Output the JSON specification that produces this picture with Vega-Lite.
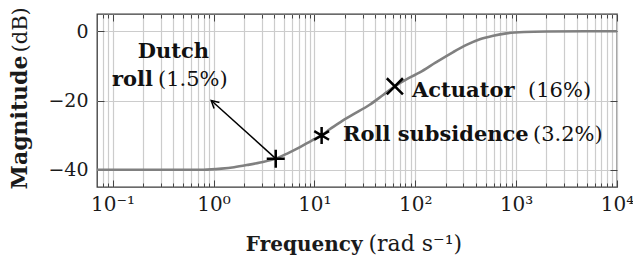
{
  "$schema": "https://vega.github.io/schema/vega-lite/v6.json",
  "width": 520,
  "height": 173,
  "autosize": {"type": "none"},
  "padding": {"left": 97, "top": 14, "right": 16, "bottom": 80},
  "config": {
    "view": {"stroke": "#3a3a3a", "strokeWidth": 1.3},
    "font": "DejaVu Serif",
    "axis": {
      "domain": false,
      "labelFont": "DejaVu Serif",
      "titleFont": "DejaVu Serif",
      "labelColor": "#1a1a1a",
      "titleColor": "#1a1a1a",
      "gridColor": "#cccccc",
      "gridWidth": 1.2,
      "tickColor": "#444444",
      "tickWidth": 1,
      "labelFontSize": 19,
      "titleFontSize": 20,
      "labelOverlap": false,
      "labelFlush": false,
      "labelBound": false
    }
  },
  "datasets": {
    "curve": [
      {"f": 0.07, "db": -40}, {"f": 0.2, "db": -40}, {"f": 0.5, "db": -40}, {"f": 0.8, "db": -40},
      {"f": 1.2, "db": -39.7}, {"f": 1.6, "db": -39.3}, {"f": 2.2, "db": -38.6}, {"f": 2.9, "db": -37.9},
      {"f": 4.14, "db": -36.8}, {"f": 5.5, "db": -35.2}, {"f": 7.2, "db": -33.5}, {"f": 9.5, "db": -31.5},
      {"f": 11.8, "db": -30.1}, {"f": 14.2, "db": -28.3}, {"f": 18, "db": -26.3}, {"f": 24, "db": -24.1},
      {"f": 35, "db": -21.3}, {"f": 48, "db": -18.4}, {"f": 62.8, "db": -15.9}, {"f": 85, "db": -13.6},
      {"f": 111, "db": -11.9}, {"f": 160, "db": -9.0}, {"f": 238, "db": -6.0}, {"f": 330, "db": -3.8},
      {"f": 437, "db": -2.3}, {"f": 593, "db": -1.3}, {"f": 800, "db": -0.6}, {"f": 1200, "db": -0.2},
      {"f": 2000, "db": -0.05}, {"f": 5000, "db": 0}, {"f": 10000, "db": 0}
    ],
    "markers": [
      {"mode": "Dutch roll", "f": 4.14, "db": -36.8},
      {"mode": "Roll subsidence", "f": 11.8, "db": -30.1},
      {"mode": "Actuator", "f": 62.8, "db": -15.9}
    ],
    "arrow": [{"f": 4.14, "db": -36.8, "f2": 0.95, "db2": -20}],
    "boldCenter": [{"text": "Dutch", "f": 0.401, "db": -7.8}],
    "boldRight": [{"text": "roll", "f": 0.2514, "db": -15.8}],
    "boldLeft": [
      {"text": "Actuator", "f": 92.9, "db": -18.9},
      {"text": "Roll subsidence", "f": 19.2, "db": -31.7}
    ],
    "regularLeft": [
      {"text": "(1.5%)", "f": 0.2817, "db": -15.8},
      {"text": "(16%)", "f": 1312, "db": -18.9},
      {"text": "(3.2%)", "f": 1469, "db": -31.7}
    ]
  },
  "layer": [
    {
      "data": {"name": "curve"},
      "mark": {"type": "line", "color": "#808080", "strokeWidth": 2.6, "interpolate": "monotone"},
      "encoding": {
        "x": {
          "field": "f", "type": "quantitative",
          "scale": {"type": "log", "domain": [0.07, 10000], "nice": false},
          "axis": {
            "orient": "bottom",
            "values": [0.08,0.09,0.1,0.2,0.3,0.4,0.5,0.6,0.7,0.8,0.9,1,2,3,4,5,6,7,8,9,10,20,30,40,50,60,70,80,90,100,200,300,400,500,600,700,800,900,1000,2000,3000,4000,5000,6000,7000,8000,9000,10000],
            "labelExpr": "datum.value == 0.1 ? '10⁻¹' : datum.value == 1 ? '10⁰' : datum.value == 10 ? '10¹' : datum.value == 100 ? '10²' : datum.value == 1000 ? '10³' : datum.value == 10000 ? '10⁴' : ''",
            "grid": true,
            "tickSize": {"condition": {"test": "indexof([0.1,1,10,100,1000,10000], datum.value) >= 0", "value": -7}, "value": -4},
            "labelPadding": 14,
            "labelFontSize": 20,
            "title": "Frequency",
            "titleFontWeight": "bold",
            "titleFontSize": 20,
            "titleAlign": "right",
            "titleBaseline": "alphabetic",
            "titleX": 265,
            "titleY": 63
          }
        },
        "y": {
          "field": "db", "type": "quantitative",
          "scale": {"domain": [-45, 5], "nice": false},
          "axis": {
            "orient": "left",
            "values": [-40, -20, 0],
            "grid": true,
            "tickSize": -7,
            "labelPadding": 16,
            "labelFontSize": 19,
            "title": "Magnitude",
            "titleFontWeight": "bold",
            "titleFontSize": 22,
            "titleAngle": 270,
            "titleAlign": "right",
            "titleBaseline": "alphabetic",
            "titleX": -71,
            "titleY": 41
          }
        }
      }
    },
    {
      "data": {"name": "markers"},
      "mark": {"type": "point", "filled": false, "stroke": "black", "strokeWidth": 2.5, "opacity": 1},
      "encoding": {
        "x": {
          "field": "f", "type": "quantitative",
          "axis": {
            "orient": "bottom", "labels": false, "ticks": false, "grid": false, "domain": false,
            "title": "(rad s⁻¹)",
            "titleFontWeight": "normal",
            "titleFontSize": 22,
            "titleAlign": "left",
            "titleBaseline": "alphabetic",
            "titleX": 271,
            "titleY": 63
          }
        },
        "y": {
          "field": "db", "type": "quantitative",
          "axis": {
            "orient": "left", "labels": false, "ticks": false, "grid": false, "domain": false,
            "title": "(dB)",
            "titleFontWeight": "normal",
            "titleFontSize": 21,
            "titleAngle": 270,
            "titleAlign": "left",
            "titleBaseline": "alphabetic",
            "titleX": -71,
            "titleY": 38
          }
        },
        "shape": {
          "field": "mode", "type": "nominal", "legend": null,
          "scale": {
            "domain": ["Dutch roll", "Roll subsidence", "Actuator"],
            "range": ["M-1,0L1,0M0,-1L0,1", "M0,-1L0,1M-0.866,-0.5L0.866,0.5M-0.866,0.5L0.866,-0.5", "M-1,-1L1,1M-1,1L1,-1"]
          }
        },
        "size": {
          "field": "mode", "type": "nominal", "legend": null,
          "scale": {"domain": ["Dutch roll", "Roll subsidence", "Actuator"], "range": [324, 260, 160]}
        }
      }
    },
    {
      "data": {"name": "arrow"},
      "mark": {"type": "rule", "color": "black", "strokeWidth": 1.5},
      "encoding": {
        "x": {
          "field": "f", "type": "quantitative",
          "axis": {
            "orient": "top", "labels": false, "grid": false, "domain": false, "title": null,
            "values": [0.08,0.09,0.1,0.2,0.3,0.4,0.5,0.6,0.7,0.8,0.9,1,2,3,4,5,6,7,8,9,10,20,30,40,50,60,70,80,90,100,200,300,400,500,600,700,800,900,1000,2000,3000,4000,5000,6000,7000,8000,9000,10000],
            "tickSize": {"condition": {"test": "indexof([0.1,1,10,100,1000,10000], datum.value) >= 0", "value": -7}, "value": -4}
          }
        },
        "x2": {"field": "f2"},
        "y": {
          "field": "db", "type": "quantitative",
          "axis": {
            "orient": "right", "labels": false, "grid": false, "domain": false, "title": null,
            "values": [-40, -20, 0], "tickSize": -7
          }
        },
        "y2": {"field": "db2"}
      }
    },
    {
      "data": {"name": "arrow"},
      "mark": {"type": "point", "shape": "M-0.6,1.1L0,0L0.6,1.1", "filled": false, "stroke": "black", "strokeWidth": 1.5, "size": 180, "angle": 312, "opacity": 1},
      "encoding": {
        "x": {"field": "f2", "type": "quantitative", "axis": null},
        "y": {"field": "db2", "type": "quantitative", "axis": null}
      }
    },
    {
      "data": {"name": "boldCenter"},
      "mark": {"type": "text", "font": "DejaVu Serif", "fontSize": 21, "fontWeight": "bold", "align": "center", "baseline": "alphabetic", "color": "#111111"},
      "encoding": {
        "x": {"field": "f", "type": "quantitative", "axis": null},
        "y": {"field": "db", "type": "quantitative", "axis": null},
        "text": {"field": "text"}
      }
    },
    {
      "data": {"name": "boldRight"},
      "mark": {"type": "text", "font": "DejaVu Serif", "fontSize": 21, "fontWeight": "bold", "align": "right", "baseline": "alphabetic", "color": "#111111"},
      "encoding": {
        "x": {"field": "f", "type": "quantitative", "axis": null},
        "y": {"field": "db", "type": "quantitative", "axis": null},
        "text": {"field": "text"}
      }
    },
    {
      "data": {"name": "boldLeft"},
      "mark": {"type": "text", "font": "DejaVu Serif", "fontSize": 21, "fontWeight": "bold", "align": "left", "baseline": "alphabetic", "color": "#111111"},
      "encoding": {
        "x": {"field": "f", "type": "quantitative", "axis": null},
        "y": {"field": "db", "type": "quantitative", "axis": null},
        "text": {"field": "text"}
      }
    },
    {
      "data": {"name": "regularLeft"},
      "mark": {"type": "text", "font": "DejaVu Serif", "fontSize": 21, "fontWeight": "normal", "align": "left", "baseline": "alphabetic", "color": "#111111"},
      "encoding": {
        "x": {"field": "f", "type": "quantitative", "axis": null},
        "y": {"field": "db", "type": "quantitative", "axis": null},
        "text": {"field": "text"}
      }
    }
  ],
  "resolve": {"axis": {"x": "independent", "y": "independent"}}
}
